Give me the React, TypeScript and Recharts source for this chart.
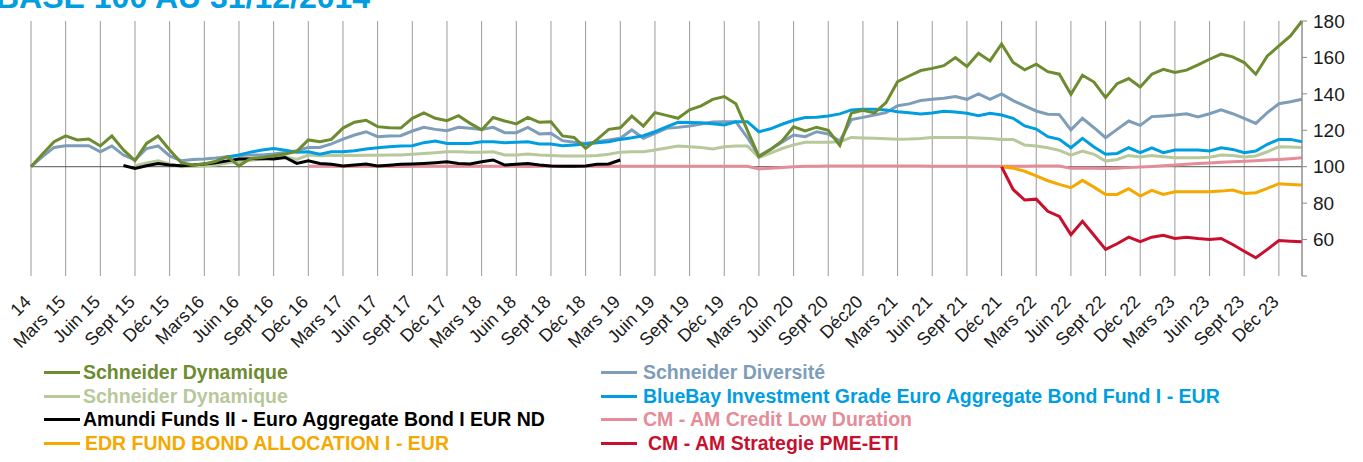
import { LineChart, Line, XAxis, YAxis, CartesianGrid, ReferenceLine } from 'recharts';

// quarterly tick labels (first one is cut in the source, only "14" shows)
const quarterLabels = [
  '14', 'Mars 15', 'Juin 15', 'Sept 15', 'Déc 15', 'Mars16', 'Juin 16', 'Sept 16', 'Déc 16',
  'Mars 17', 'Juin 17', 'Sept 17', 'Déc 17', 'Mars 18', 'Juin 18', 'Sept 18', 'Déc 18',
  'Mars 19', 'Juin 19', 'Sept 19', 'Déc 19', 'Mars 20', 'Juin 20', 'Sept 20', 'Déc20',
  'Mars 21', 'Juin 21', 'Sept 21', 'Déc 21', 'Mars 22', 'Juin 22', 'Sept 22', 'Déc 22',
  'Mars 23', 'Juin 23', 'Sept 23', 'Déc 23',
];

// monthly values, base 100 at 31/12/2014 (month 0 = déc 2014)
const dynamique = [
  100, 107, 113.7, 116.9, 114.7, 115.2, 111.4, 116.9, 109.2, 103.3,
  112.8, 116.9, 109.2, 102.2, 101, 101.5, 103, 105.5, 100.5, 104.5,
  105, 106, 107, 108.4, 114.7, 113.7, 115, 121.2, 124.4, 125.5,
  122, 121.4, 121.2, 126.6, 129.5, 126.6, 125.3, 128, 123.8, 120.2,
  127, 125.1, 123.5, 127.1, 124.4, 124.7, 116.9, 116.1, 110.1, 115,
  120.5, 121.4, 127.8, 122.3, 129.7, 128.2, 126.6, 131.2, 133.4, 137,
  138.5, 134.6, 120, 105.5, 109.5, 114.2, 121.9, 119.7, 121.7, 120,
  111.7, 129.5, 131, 129.5, 135.2, 146.7, 149.8, 152.8, 154, 155.5,
  159.9, 155, 162.3, 158.1, 167.4, 157.2, 153.2, 156.3, 152.2, 150.8,
  139.8, 150.2, 146.5, 137.9, 145.6, 148.4, 143.8, 150.8, 153.5, 151.7,
  153, 155.9, 159, 161.8, 160.3, 157.2, 150.8, 160.8, 166.3, 171.8,
  180,
];
const dynamiqueStart = 0;

const diversite = [
  100, 105.5, 110.6, 111.5, 111.5, 111.5, 108.2, 111.4, 106.4, 103.7,
  110, 111.4, 105.9, 103.3, 104, 104.3, 104.8, 105.5, 106, 106.5,
  106.5, 107, 107.8, 108.8, 110.6, 110.6, 112.5, 115.2, 117.4, 119.2,
  116.5, 116.8, 117, 119.6, 121.6, 120.5, 119.8, 121.6, 121.1, 120.5,
  121.6, 118.7, 118.7, 121.6, 118, 118.3, 114.3, 113.4, 112.8, 113.7,
  114.7, 115.6, 120.2, 115.6, 118.3, 121.1, 121.6, 122.3, 123.5, 124.5,
  124.7, 124.7, 116, 105.9, 109.5, 113.5, 117.4, 116.5, 119.2, 118,
  114.1, 125.9, 127.1, 128.4, 129.7, 133.5, 134.5, 136.3, 137, 137.6,
  138.5, 137, 140, 137, 140, 136.3, 133.4, 130.6, 128.8, 128.6,
  120.2, 126.6, 121.4, 115.9, 120.5, 125.1, 122.7, 127.5, 127.9, 128.4,
  129.1, 127.3, 129.1, 131.2, 129.1, 126.6, 123.8, 129.7, 134.6, 135.7,
  137,
];
const diversiteStart = 0;

const dynamique2 = [
  100.5, 102, 103.3, 101.5, 100, 100.2, 100.5, 101, 102, 102.8, 103.5,
  104.2, 105, 105.5, 104, 106.4, 106, 106.2, 106.2, 106.2, 106.3,
  106.3, 106.4, 106.4, 106.8, 107.2, 107.7, 108.2, 108.2, 108, 108,
  108.2, 106.4, 106.4, 107, 106.4, 106.2, 105.9, 105.9, 105.9, 106.2,
  106.8, 108, 108.2, 108.2, 109.2, 110.3, 111.4, 111, 110.6, 109.7,
  111, 111.4, 111.4, 105, 107.5, 110, 112, 113.4, 113.4, 113.4,
  113.7, 116.1, 115.8, 115.6, 115.4, 115.1, 115.2, 115.5, 116, 116.1,
  116.1, 116.1, 115.8, 115.5, 115, 115, 111.9, 111.4, 110.4, 109,
  106.4, 108.6, 106.8, 103.1, 104, 106.2, 105.3, 106.2, 105.5, 104.9,
  104.9, 104.9, 105.2, 106.4, 106.2, 105.3, 105.9, 108.2, 111, 110.8, 110.6,
];
const dynamique2Start = 9;

const amundi = [
  100.7, 99.1, 100.5, 101.8, 100.9, 100.5, 100.9, 101.5, 102.2, 103.2,
  104.2, 104.4, 104.5, 104.3, 105.1, 101.8, 103.3, 101.8, 101.3, 100.4,
  100.9, 101.5, 100.4, 100.8, 101.3, 101.5, 101.8, 102.2, 102.7, 101.8,
  101.5, 102.7, 103.7, 100.9, 101.3, 101.8, 100.9, 100.4, 100.3, 100.3,
  100.4, 101.3, 101.5, 103.7,
];
const amundiStart = 8;

const bluebay = [
  105.3, 106.5, 108, 109.2, 110, 109, 107.9, 108.2, 106.8, 108.2,
  108.2, 108.8, 109.7, 110.4, 110.9, 111.4, 111.5, 113.2, 114.1, 112.8,
  112.8, 112.8, 113.7, 113.7, 113.2, 113.4, 113.7, 112.5, 112.5, 111.5,
  111.9, 112.5, 113.2, 113.7, 115, 115.9, 117, 119.2, 121.9, 124.4,
  124.3, 124.2, 123.6, 122.9, 124.7, 124.7, 119.2, 120.8, 123.3, 125.5,
  127, 127.1, 127.9, 129, 131.2, 131.5, 131.5, 131.2, 130.2, 129.6,
  129, 129.5, 130.4, 130, 129.3, 128, 129.3, 128.4, 126.6, 122.4,
  120.7, 116.5, 115, 110.4, 115.6, 110.8, 106.8, 107.3, 110.4, 107.7,
  110.4, 107.7, 109.2, 109.2, 109.2, 108.6, 110.4, 109.5, 107.7, 108.6,
  112.3, 115, 115, 113.7,
];
const bluebayStart = 17;

const creditLow = [
  100.2, 100.2, 100.2, 100.1, 100.2, 100.2, 100.2, 100.1, 100.1, 100.2,
  100.2, 100.2, 100.2, 100.2, 100.3, 100.3, 100.2, 100.2, 100.2, 100.1,
  100.2, 100.2, 100.2, 100.2, 100.2, 100.2, 100.2, 100.2, 100.2, 100.3,
  100.3, 100.3, 100.3, 100.3, 100.3, 100.3, 100.2, 100.2, 100.3, 98.8,
  99.2, 99.6, 100, 100.3, 100.3, 100.4, 100.4, 100.4, 100.4, 100.4,
  100.4, 100.4, 100.4, 100.4, 100.3, 100.3, 100.3, 100.3, 100.3, 100.3,
  100.3, 100.3, 100.3, 100.4, 100.4, 100.4, 99.1, 99.2, 99.2, 99,
  99.2, 99.5, 99.8, 100.1, 100.5, 101, 101.3, 101.7, 102.1, 102.5,
  102.7, 103, 103.3, 103.7, 104, 104.4, 104.9,
];
const creditLowStart = 24;

const edr = [
  100, 99.2, 97.5, 95, 92.3, 90.3, 88.5, 92.5, 88.8, 84.8,
  84.8, 87.9, 83.9, 87, 84.8, 86.3, 86.3, 86.3, 86.3, 86.6,
  87.2, 85.3, 85.7, 88.1, 90.7, 90.3, 89.9,
];
const edrStart = 84;

const pmeEti = [
  100, 87.5, 81.7, 82.2, 75.5, 72.7, 62.7, 70, 62.4, 54.6,
  57.7, 61.3, 58.8, 61.3, 62.4, 60.6, 61.3, 60.6, 60.1, 60.6,
  57.3, 53.6, 50, 54.6, 59.5, 59.1, 58.8,
];
const pmeEtiStart = 84;

const yTicks = [40, 60, 80, 100, 120, 140, 160, 180];

const series = [
  { key: 'creditLow', name: 'CM - AM Credit Low Duration', color: '#e58c98', values: creditLow, start: creditLowStart },
  { key: 'dynamique2', name: 'Schneider Dynamique', color: '#b7c89b', values: dynamique2, start: dynamique2Start },
  { key: 'diversite', name: 'Schneider Diversité', color: '#7d9db9', values: diversite, start: diversiteStart },
  { key: 'bluebay', name: 'BlueBay Investment Grade Euro Aggregate Bond Fund I - EUR', color: '#009ee0', values: bluebay, start: bluebayStart },
  { key: 'amundi', name: 'Amundi Funds II - Euro Aggregate Bond I EUR ND', color: '#000000', values: amundi, start: amundiStart },
  { key: 'dynamique', name: 'Schneider Dynamique', color: '#6d8b2f', values: dynamique, start: dynamiqueStart },
  { key: 'edr', name: 'EDR FUND BOND ALLOCATION I - EUR', color: '#f5a900', values: edr, start: edrStart },
  { key: 'pmeEti', name: 'CM - AM Strategie PME-ETI', color: '#c8102e', values: pmeEti, start: pmeEtiStart },
];

const rows = dynamique.map((_, i) => {
  const row: any = { i };
  series.forEach(s => {
    const v = s.values[i - s.start];
    row[s.key] = i >= s.start && v !== undefined ? v : null;
  });
  return row;
});

const quarterTicks = quarterLabels.map((_, k) => k * 3);

const legendLeft = ['dynamique', 'dynamique2', 'amundi', 'edr'];
const legendRight = ['diversite', 'bluebay', 'creditLow', 'pmeEti'];

const font = '"Liberation Sans", Arial, sans-serif';

const XTick = ({ x, y, payload }: any) => {
  const tx = x + 1;
  const ty = y + 27;
  return (
    <text x={tx} y={ty} transform={`rotate(-45, ${tx}, ${ty})`} textAnchor="end"
      fontSize={18} fontFamily={font} fill="#1a1a1a">
      {quarterLabels[Math.round(payload.value / 3)]}
    </text>
  );
};

function LegendColumn({ keys, left, textLeft }: { keys: string[]; left: number; textLeft: number }) {
  return (
    <>
      {keys.map((k, n) => {
        const s = series.find(ss => ss.key === k)!;
        const top = 361 + n * 23.7;
        return (
          <div key={k} style={{ position: 'absolute', left, top, height: 23, display: 'flex', alignItems: 'center' }}>
            <div style={{ width: 36, height: 3, background: s.color }} />
            <div style={{
              marginLeft: textLeft - left - 36 + (k === 'pmeEti' ? 5 : k === 'edr' ? 2 : 0),
              color: s.color, fontFamily: font, fontWeight: 'bold', fontSize: 19.5, lineHeight: '23px', whiteSpace: 'nowrap',
            }}>{s.name}</div>
          </div>
        );
      })}
    </>
  );
}

export default function App() {
  return (
    <div style={{ position: 'fixed', left: 0, top: 0, width: 1363, height: 462, overflow: 'hidden', background: '#fff' }}>
      <div style={{
        position: 'absolute', left: -4, top: -19, fontFamily: font, fontWeight: 'bold', fontSize: 32,
        lineHeight: '32px', color: '#009ee0', whiteSpace: 'nowrap',
      }}>BASE 100 AU 31/12/2014</div>
      <div style={{ position: 'absolute', left: 0, top: 0 }}>
        <LineChart width={1363} height={362} data={rows} margin={{ top: 21, right: 0, left: 31, bottom: 0 }}>
          <CartesianGrid vertical={true} horizontal={false} stroke="#9a9a9a" strokeWidth={1} />
          <XAxis dataKey="i" type="number" domain={[0, 110]} ticks={quarterTicks} interval={0}
            axisLine={false} tickLine={false} tickSize={0} tickMargin={0} height={86} tick={<XTick />} />
          <YAxis orientation="right" domain={[40, 180]} ticks={yTicks} interval={0} width={61}
            axisLine={{ stroke: '#8a8a8a' }} tickLine={{ stroke: '#8a8a8a' }} tickSize={5} tickMargin={6}
            tickFormatter={(v: number) => (v === 40 ? '' : String(v))}
            tick={{ fontSize: 19, fontFamily: font, fill: '#1a1a1a' }} />
          <ReferenceLine y={100} stroke="#555" strokeWidth={1} />
          {series.map(s => (
            <Line key={s.key} dataKey={s.key} stroke={s.color} strokeWidth={3} dot={false} activeDot={false}
              type="linear" connectNulls={false} isAnimationActive={false} />
          ))}
        </LineChart>
      </div>
      <LegendColumn keys={legendLeft} left={44} textLeft={83} />
      <LegendColumn keys={legendRight} left={601} textLeft={643} />
    </div>
  );
}
